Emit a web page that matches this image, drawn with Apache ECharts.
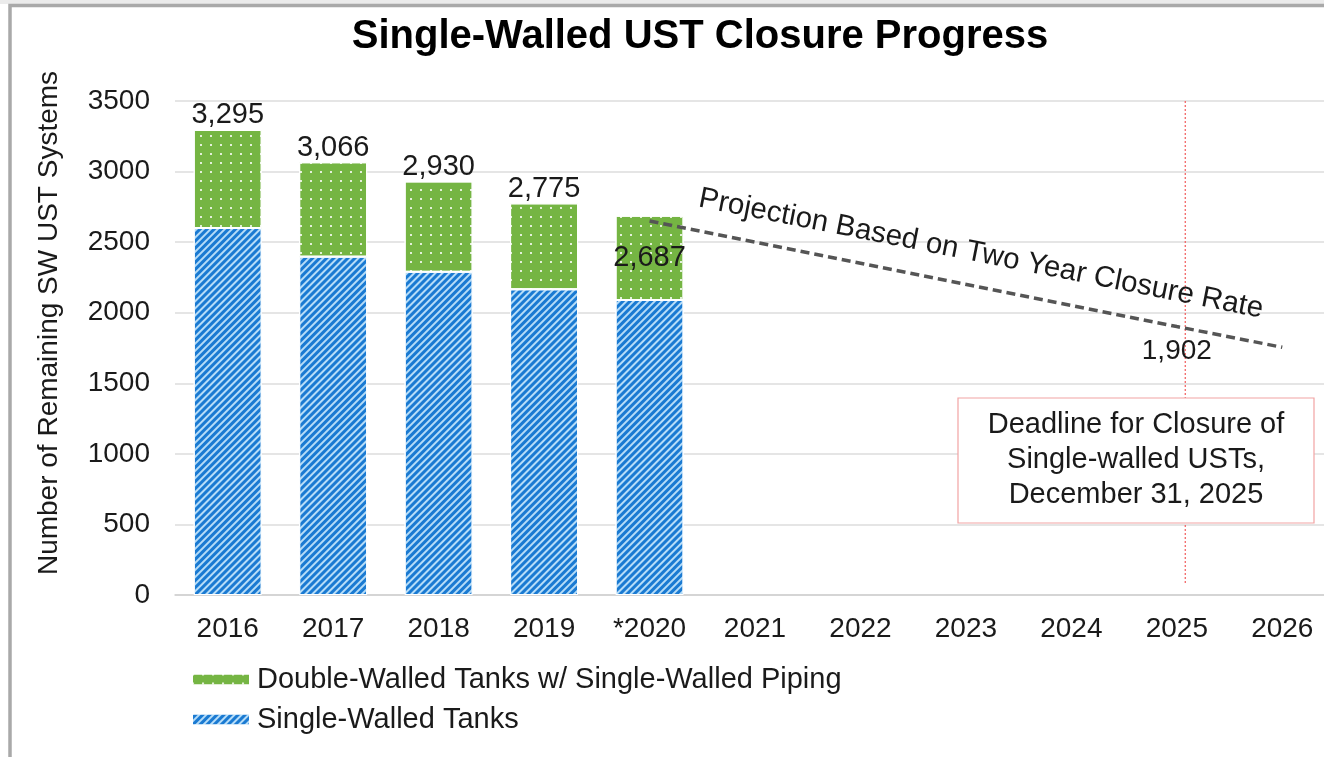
<!DOCTYPE html>
<html>
<head>
<meta charset="utf-8">
<script src="https://cdn.jsdelivr.net/npm/echarts@6/dist/echarts.min.js"></script>
<style>
  html, body { margin: 0; padding: 0; background: #fff; }
  #chart { width: 1324px; height: 757px; }
</style>
</head>
<body>
<div id="chart"></div>
<script>
const years = ['2016', '2017', '2018', '2019', '*2020', '2021', '2022', '2023', '2024', '2025', '2026'];
const singleWalledTanks = [2600, 2397, 2290, 2166, 2090];
const doubleWalledSwPiping = [695, 669, 640, 609, 597];
const totals = [3295, 3066, 2930, 2775, 2687];

// projection on a hidden value x axis (0 = 2016)
const projX = [4, 9, 10];
const projY = [2650, 1902, 1755];
const deadlineX = [9.08, 9.08];
const deadlineY = [3500, 70];

const yTicks = { min: 0, max: 3500, interval: 500 };

const font = 'Liberation Sans, Arial, sans-serif';
const ink = '#1a1a1a';

const chart = echarts.init(document.getElementById('chart'), null, { renderer: 'canvas' });

chart.setOption({
  animation: false,
  backgroundColor: '#fff',
  title: {
    text: 'Single-Walled UST Closure Progress',
    left: 695,
    textAlign: 'center',
    top: 12,
    textStyle: { fontFamily: font, fontSize: 40, fontWeight: 'bold', color: '#000' },
  },
  legend: {
    orient: 'vertical',
    left: 186,
    top: 660,
    itemWidth: 58,
    itemHeight: 12,
    itemGap: 11,
    icon: 'rect',
    data: ['Double-Walled Tanks w/ Single-Walled Piping', 'Single-Walled Tanks'],
    textStyle: { fontFamily: font, fontSize: 29, color: ink, padding: [0, 0, 0, 2] },
  },
  grid: { left: 175, top: 101, width: 1160, height: 494, containLabel: false, outerBoundsMode: 'none' },
  xAxis: [
    {
      type: 'category',
      data: years,
      axisTick: { show: false },
      axisLine: { lineStyle: { color: '#d0d0d0', width: 1.5 } },
      axisLabel: { fontFamily: font, fontSize: 28, color: ink, margin: 20 },
    },
    { type: 'value', min: -0.5, max: 10.5, show: false },
  ],
  yAxis: {
    type: 'value',
    min: yTicks.min,
    max: yTicks.max,
    interval: yTicks.interval,
    name: 'Number of Remaining SW UST Systems',
    nameLocation: 'middle',
    nameGap: 112,
    nameTextStyle: { fontFamily: font, fontSize: 28, color: ink, padding: [0, 0, 0, 50] },
    axisLine: { show: false },
    axisTick: { show: false },
    axisLabel: { fontFamily: font, fontSize: 28, color: ink, margin: 25, formatter: (v) => String(v) },
    splitLine: { lineStyle: { color: '#dcdcdc', width: 1.5 } },
  },
  series: [
    {
      name: 'Single-Walled Tanks',
      type: 'bar',
      stack: 'sw',
      barWidth: 68,
      data: singleWalledTanks,
      itemStyle: {
        color: '#1a7ad2',
        borderColor: '#fff',
        borderWidth: 1,
        decal: {
          symbol: 'rect',
          symbolSize: 1,
          dashArrayX: [1, 0],
          dashArrayY: [2, 3],
          rotation: -Math.PI / 4,
          color: 'rgba(190,225,250,0.95)',
        },
      },
    },
    {
      name: 'Double-Walled Tanks w/ Single-Walled Piping',
      type: 'bar',
      stack: 'sw',
      barWidth: 68,
      data: doubleWalledSwPiping.map((v, i) => ({
        value: v,
        label: i === 4 ? { position: 'inside' } : { position: 'top' },
      })),
      itemStyle: {
        color: '#75b543',
        borderColor: '#fff',
        borderWidth: 1,
        decal: {
          symbol: 'rect',
          symbolSize: 1,
          dashArrayX: [2, 8],
          dashArrayY: [2, 7],
          color: 'rgba(255,255,255,0.8)',
        },
      },
      label: {
        show: true,
        distance: 0,
        fontFamily: font,
        fontSize: 29,
        color: ink,
        formatter: (p) => totals[p.dataIndex].toLocaleString('en-US'),
      },
    },
    {
      name: 'Deadline',
      type: 'line',
      xAxisIndex: 1,
      silent: true,
      symbol: 'none',
      data: deadlineX.map((x, i) => [x, deadlineY[i]]),
      lineStyle: { color: '#f25a5a', width: 1.2, type: [2, 2] },
      z: 1,
    },
    {
      name: 'Projection',
      type: 'line',
      xAxisIndex: 1,
      silent: true,
      symbol: 'circle',
      symbolSize: 1,
      itemStyle: { color: 'rgba(0,0,0,0)' },
      data: projX.map((x, i) => ({
        value: [x, projY[i]],
        label: {
          show: i === 1,
          position: 'bottom',
          distance: 10,
          fontFamily: font,
          fontSize: 28,
          color: ink,
          formatter: (p) => p.value[1].toLocaleString('en-US'),
        },
      })),
      lineStyle: { color: '#555', width: 3.5, type: [9, 5] },
      z: 5,
    },
  ],
  graphic: [
    { type: 'rect', z: 200, shape: { x: 0, y: 0, width: 1324, height: 4 }, style: { fill: '#ebebeb' } },
    { type: 'rect', z: 200, shape: { x: 10, y: 5.5, width: 1400, height: 800 }, style: { fill: null, stroke: '#a9a9a9', lineWidth: 3.5 } },
    {
      type: 'text',
      z: 100,
      x: 981,
      y: 254,
      rotation: -0.195,
      style: {
        text: 'Projection Based on Two Year Closure Rate',
        fontFamily: font,
        fontSize: 29.5,
        fill: ink,
        align: 'center',
        verticalAlign: 'middle',
      },
    },
    {
      type: 'rect',
      z: 100,
      shape: { x: 958, y: 398, width: 356, height: 125 },
      style: { fill: '#fff', stroke: '#f2a3a3', lineWidth: 1.2 },
    },
    {
      type: 'text',
      z: 101,
      x: 1136,
      y: 460,
      style: {
        text: 'Deadline for Closure of\nSingle-walled USTs,\nDecember 31, 2025',
        fontFamily: font,
        fontSize: 29,
        lineHeight: 35,
        fill: ink,
        align: 'center',
        verticalAlign: 'middle',
      },
    },
  ],
});
</script>
</body>
</html>
